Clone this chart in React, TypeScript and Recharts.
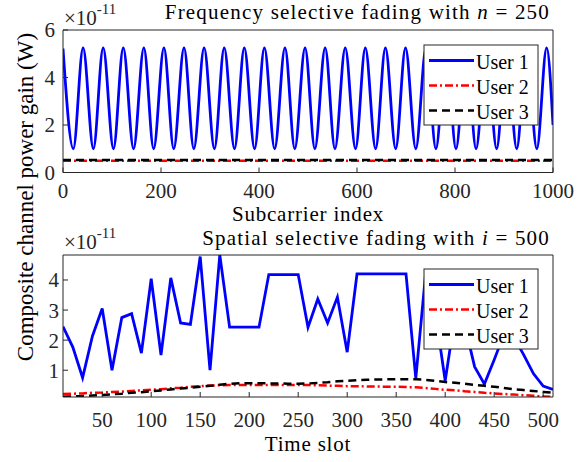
import React from 'react';
import { LineChart, Line, XAxis, YAxis } from 'recharts';

// top panel: subcarrier index of each peak / trough of user 1
const subcarrierIdx = [
  0, 21, 41, 62, 82, 103, 123, 144, 165, 185, 206, 226, 247, 267, 288, 309, 329,
  350, 370, 391, 411, 432, 453, 473, 494, 514, 535, 555, 576, 597, 617, 638, 658,
  679, 699, 720, 741, 761, 782, 802, 823, 843, 864, 885, 905, 926, 946, 967, 987, 1000,
];
const user1Freq = [
  5.22, 1.0, 5.25, 1.0, 5.25, 1.0, 5.25, 1.0, 5.25, 1.0, 5.25, 1.0, 5.25, 1.0, 5.25, 1.0, 5.25,
  1.0, 5.25, 1.0, 5.25, 1.0, 5.25, 1.0, 5.25, 1.0, 5.25, 1.0, 5.25, 1.0, 5.25, 1.0, 5.25,
  1.0, 5.25, 1.0, 5.25, 1.0, 5.25, 1.0, 5.25, 1.0, 5.25, 1.0, 5.25, 1.0, 5.25, 1.0, 5.25, 2.0,
];
const flatIdx = [0, 1000];
const user2Freq = [0.49, 0.49];
const user3Freq = [0.53, 0.53];
const freqXTicks = [0, 200, 400, 600, 800, 1000];
const freqYTicks = [0, 2, 4, 6];

// bottom panel: time slots
const timeSlots = [
  10, 20, 30, 40, 50, 60, 70, 80, 90, 100, 110, 120, 130, 140, 150, 160, 170, 180, 190, 200,
  210, 220, 230, 240, 250, 260, 270, 280, 290, 300, 310, 320, 330, 340, 350, 360, 370, 380,
  390, 400, 410, 420, 430, 440, 450, 460, 470, 480, 490, 500, 510,
];
const user1Time = [
  2.45, 1.77, 0.75, 2.13, 3.05, 1.0, 2.75, 2.88, 1.57, 4.04, 1.5, 4.07, 2.57, 2.52, 4.78, 1.0,
  4.83, 2.43, 2.43, 2.43, 2.43, 4.18, 4.18, 4.18, 4.18, 2.43, 3.37, 2.57, 3.43, 1.6, 4.2, 4.2,
  4.2, 4.2, 4.2, 4.2, 0.73, 4.2, 2.9, 0.65, 2.8, 2.5, 1.12, 0.54, 1.35, 2.2, 2.1, 1.52, 0.89,
  0.47, 0.36,
];
const user2Time = [
  0.21, 0.22, 0.23, 0.25, 0.26, 0.28, 0.29, 0.31, 0.33, 0.35, 0.37, 0.4, 0.42, 0.45, 0.47, 0.49,
  0.5, 0.51, 0.51, 0.51, 0.51, 0.51, 0.51, 0.51, 0.51, 0.51, 0.5, 0.49, 0.48, 0.47, 0.47, 0.46,
  0.46, 0.45, 0.45, 0.44, 0.43, 0.41, 0.38, 0.35, 0.33, 0.3, 0.28, 0.25, 0.23, 0.21, 0.19, 0.17,
  0.15, 0.13, 0.11,
];
const user3Time = [
  0.12, 0.13, 0.14, 0.16, 0.18, 0.2, 0.22, 0.25, 0.27, 0.3, 0.33, 0.36, 0.39, 0.42, 0.45, 0.48,
  0.52, 0.55, 0.57, 0.57, 0.57, 0.56, 0.56, 0.55, 0.55, 0.56, 0.58, 0.6, 0.63, 0.65, 0.67, 0.68,
  0.69, 0.7, 0.7, 0.7, 0.7, 0.68, 0.65, 0.61, 0.58, 0.55, 0.51, 0.48, 0.45, 0.41, 0.37, 0.34,
  0.31, 0.28, 0.25,
];
const timeXTicks = [50, 100, 150, 200, 250, 300, 350, 400, 450, 500];
const timeYTicks = [1, 2, 3, 4];

const userNames = ['User 1', 'User 2', 'User 3'];
const userColors = ['#0000ff', '#ff0000', '#000000'];
const userDash = ['', '8 3 2 3', '8 5'];
const userWidth = [2.8, 2.5, 2.5];

const freqRows = subcarrierIdx.map((x, i) => ({ x, v: user1Freq[i] }));
const flat2 = flatIdx.map((x, i) => ({ x, v: user2Freq[i] }));
const flat3 = flatIdx.map((x, i) => ({ x, v: user3Freq[i] }));
const timeRows = timeSlots.map((t, i) => ({ t, u1: user1Time[i], u2: user2Time[i], u3: user3Time[i] }));

const allTime = [...user1Time, ...user2Time, ...user3Time];
const timeMin = Math.min(...allTime);
const timeMax = Math.max(...allTime);

const FONT = '"Liberation Serif", "Times New Roman", serif';
const AX = '#262626';
const tickStyle = { fontFamily: FONT, fontSize: 21, fill: AX };

function LegendBox({ x, y }: { x: number; y: number }) {
  return (
    <g>
      <rect x={x} y={y} width={114} height={80} fill="#fff" stroke={AX} strokeWidth={1} />
      {userNames.map((name, i) => (
        <g key={name}>
          <line
            x1={x + 5}
            x2={x + 50}
            y1={y + 15.5 + i * 25}
            y2={y + 15.5 + i * 25}
            stroke={userColors[i]}
            strokeWidth={userWidth[i]}
            strokeDasharray={userDash[i] || undefined}
          />
          <text x={x + 52} y={y + 23.5 + i * 25} fontFamily={FONT} fontSize={20} fill="#000">
            {name}
          </text>
        </g>
      ))}
    </g>
  );
}

export default function App() {
  return (
    <div style={{ position: 'absolute', left: 0, top: 0, width: 585, height: 462, background: '#fff' }}>
      <div style={{ position: 'absolute', left: 0, top: 0 }}>
        <LineChart width={585} height={230} margin={{ top: 29, right: 31, left: 8, bottom: 0 }}>
          <XAxis
            dataKey="x"
            type="number"
            domain={[0, 1000]}
            ticks={freqXTicks}
            allowDataOverflow
            height={57.5}
            tickSize={-5}
            tickMargin={15.5}
            stroke={AX}
            tick={tickStyle}
          />
          <XAxis
            xAxisId="top"
            orientation="top"
            type="number"
            domain={[0, 1000]}
            ticks={freqXTicks}
            allowDataOverflow
            height={1}
            tickSize={-5}
            tick={false}
            stroke={AX}
          />
          <YAxis
            type="number"
            domain={[0, 6]}
            ticks={freqYTicks}
            allowDataOverflow
            width={55}
            tickSize={-5}
            tickMargin={13}
            stroke={AX}
            tick={tickStyle}
          />
          <YAxis
            yAxisId="right"
            orientation="right"
            type="number"
            domain={[0, 6]}
            ticks={freqYTicks}
            allowDataOverflow
            width={1}
            tickSize={-5}
            tick={false}
            stroke={AX}
          />
          <Line
            data={freqRows}
            dataKey="v"
            type="monotone"
            stroke={userColors[0]}
            strokeWidth={userWidth[0]}
            dot={false}
            activeDot={false}
            isAnimationActive={false}
          />
          <Line
            data={flat2}
            dataKey="v"
            type="linear"
            stroke={userColors[1]}
            strokeWidth={userWidth[1]}
            strokeDasharray={userDash[1]}
            dot={false}
            activeDot={false}
            isAnimationActive={false}
          />
          <Line
            data={flat3}
            dataKey="v"
            type="linear"
            stroke={userColors[2]}
            strokeWidth={userWidth[2]}
            strokeDasharray={userDash[2]}
            dot={false}
            activeDot={false}
            isAnimationActive={false}
          />
        </LineChart>
      </div>
      <div style={{ position: 'absolute', left: 0, top: 230 }}>
        <LineChart width={585} height={232} data={timeRows} margin={{ top: 24, right: 31, left: 8, bottom: 0 }}>
          <XAxis
            dataKey="t"
            type="number"
            domain={[10, 510]}
            ticks={timeXTicks}
            allowDataOverflow
            height={65}
            tickSize={-5}
            tickMargin={20}
            stroke={AX}
            tick={tickStyle}
          />
          <XAxis
            xAxisId="top"
            orientation="top"
            dataKey="t"
            type="number"
            domain={[10, 510]}
            ticks={timeXTicks}
            allowDataOverflow
            height={1}
            tickSize={-5}
            tick={false}
            stroke={AX}
          />
          <YAxis
            type="number"
            domain={[timeMin, timeMax]}
            ticks={timeYTicks}
            allowDataOverflow
            width={55}
            tickSize={-5}
            tickMargin={9}
            stroke={AX}
            tick={tickStyle}
          />
          <YAxis
            yAxisId="right"
            orientation="right"
            type="number"
            domain={[timeMin, timeMax]}
            ticks={timeYTicks}
            allowDataOverflow
            width={1}
            tickSize={-5}
            tick={false}
            stroke={AX}
          />
          {['u1', 'u2', 'u3'].map((k, i) => (
            <Line
              key={k}
              dataKey={k}
              type="linear"
              stroke={userColors[i]}
              strokeWidth={userWidth[i]}
              strokeDasharray={userDash[i] || undefined}
              dot={false}
              activeDot={false}
              isAnimationActive={false}
            />
          ))}
        </LineChart>
      </div>
      <svg
        width={585}
        height={462}
        style={{ position: 'absolute', left: 0, top: 0, pointerEvents: 'none' }}
      >
        {/* exponent labels */}
        <text x={64} y={25} fontFamily={FONT} fontSize={21} fill={AX}>
          ×10
          <tspan dy={-11} fontSize={15}>-11</tspan>
        </text>
        <text x={64} y={248.5} fontFamily={FONT} fontSize={21} fill={AX}>
          ×10
          <tspan dy={-11} fontSize={15}>-11</tspan>
        </text>
        {/* titles */}
        <text x={550} y={19} textAnchor="end" fontFamily={FONT} fontSize={21} letterSpacing={1.2} fill="#000">
          Frequency selective fading with <tspan fontStyle="italic">n</tspan> = 250
        </text>
        <text x={550} y={244.5} textAnchor="end" fontFamily={FONT} fontSize={21} letterSpacing={1.2} fill="#000">
          Spatial selective fading with <tspan fontStyle="italic">i</tspan> = 500
        </text>
        {/* axis labels */}
        <text x={308} y={221} textAnchor="middle" fontFamily={FONT} fontSize={21} letterSpacing={0.8} fill="#000">
          Subcarrier index
        </text>
        <text x={308} y={451} textAnchor="middle" fontFamily={FONT} fontSize={21} letterSpacing={0.8} fill="#000">
          Time slot
        </text>
        <text
          transform="translate(33,197) rotate(-90)"
          textAnchor="middle"
          fontFamily={FONT}
          fontSize={23}
          fill="#000"
        >
          Composite channel power gain (W)
        </text>
        <LegendBox x={424} y={45} />
        <LegendBox x={424} y={269} />
      </svg>
    </div>
  );
}
